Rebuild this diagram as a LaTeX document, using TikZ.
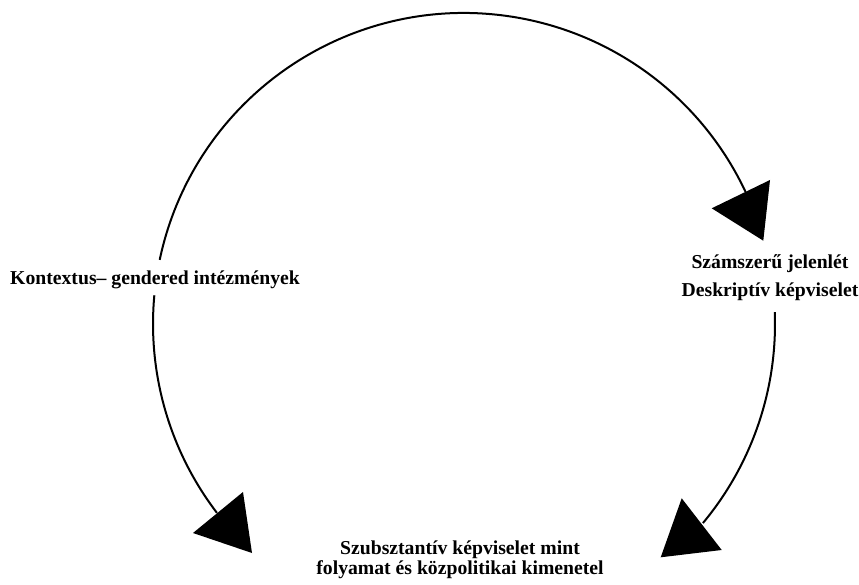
\documentclass[tikz,border=0pt]{standalone}
\usepackage{fontspec}
\setmainfont{Liberation Serif}
\usetikzlibrary{calc}
\begin{document}
\begin{tikzpicture}[x=1pt,y=1pt,
  arcline/.style={line width=2pt},
  head/.style={fill=black},
  lbl/.style={font=\bfseries\fontsize{19.7}{21}\selectfont, inner sep=0pt}]
\useasboundingbox (0,0) rectangle (859,584);
\coordinate (c) at (464,260);
% labels
\node[lbl, anchor=base west] (ctx) at (10,299) {Kontextus– gendered intézmények};
\node[lbl, anchor=base] (num) at (770,315.7) {Számszerű jelenlét};
\node[lbl, anchor=base] (desc) at (770,287.3) {Deskriptív képviselet};
\node[lbl, align=center, anchor=base] (sub) at (460,9.7) {Szubsztantív képviselet mint\\[-1.5pt]folyamat és közpolitikai kimenetel};
% arcs
\draw[arcline] ($(c)+(168.1:311)$) arc[start angle=168.1, end angle=25.1, radius=311];
\draw[arcline] ($(c)+(174.7:311)$) arc[start angle=174.7, end angle=217.4, radius=311];
\draw[arcline] ($(c)+(2.2:311)$) arc[start angle=2.2, end angle=-39.8, radius=311];
% arrow heads
\coordinate (t1) at (770,404);
\coordinate (t2) at (711.7,375.7);
\coordinate (t3) at (763.3,343.3);
\fill[head] (t1) -- (t2) -- (t3) -- cycle;
\coordinate (l1) at (243,92);
\coordinate (l2) at (193,51);
\coordinate (l3) at (252,31);
\fill[head] (l1) -- (l2) -- (l3) -- cycle;
\coordinate (r1) at (681.7,85.7);
\coordinate (r2) at (660.7,26.7);
\coordinate (r3) at (721.7,34);
\fill[head] (r1) -- (r2) -- (r3) -- cycle;
\end{tikzpicture}
\end{document}
